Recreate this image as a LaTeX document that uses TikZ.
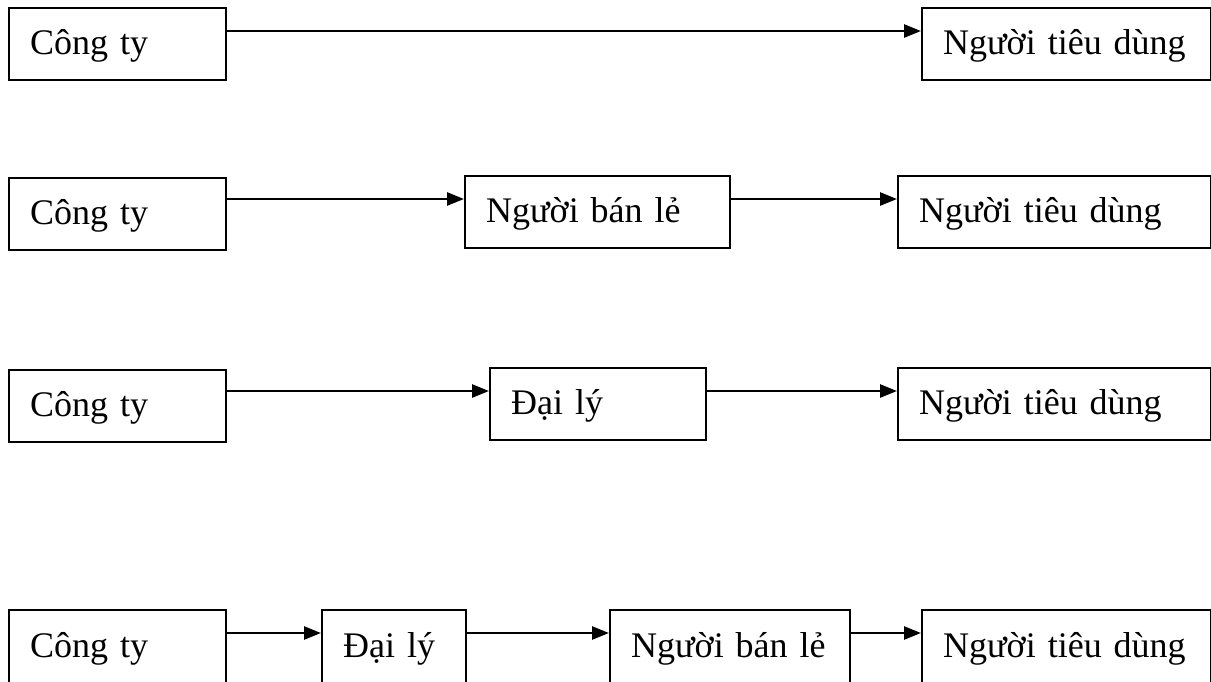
\documentclass[tikz,border=0pt]{standalone}
\usepackage{fontspec}
\setmainfont{Liberation Serif}
\usetikzlibrary{arrows.meta}
\tikzset{
  bx/.style={draw, line width=2.4pt, anchor=north west, minimum height=72pt,
    inner xsep=21pt, inner ysep=0pt, text height=30pt, text depth=10pt,
    align=left, font=\fontsize{36}{40}\selectfont},
  lastrow/.style={minimum height=75pt},
  arr/.style={line width=2.6pt, -{Triangle[length=17pt,width=13pt]}}
}
\begin{document}
\begin{tikzpicture}[x=1pt,y=-1pt]
\useasboundingbox (0,0) rectangle (1211,681);
% Row 1
\node[bx, text width=175pt] (c1) at (8,7) {\mbox{Công ty}};
\node[bx, text width=247pt] (t1) at (921,7) {\mbox{Người tiêu dùng}};
\draw[arr] ([yshift=-24pt]c1.north east) -- ([yshift=-24pt]c1.north east -| t1.west);
% Row 2
\node[bx, text width=175pt] (c2) at (8,177) {\mbox{Công ty}};
\node[bx, text width=223pt] (r2) at (464,175) {\mbox{Người bán lẻ}};
\node[bx, text width=271pt] (t2) at (897,175) {\mbox{Người tiêu dùng}};
\draw[arr] ([yshift=-22pt]c2.north east) -- ([yshift=-22pt]c2.north east -| r2.west);
\draw[arr] ([yshift=-24pt]r2.north east) -- ([yshift=-24pt]r2.north east -| t2.west);
% Row 3
\node[bx, text width=175pt] (c3) at (8,369) {\mbox{Công ty}};
\node[bx, text width=174pt] (a3) at (489,367) {\mbox{Đại lý}};
\node[bx, text width=271pt] (t3) at (897,367) {\mbox{Người tiêu dùng}};
\draw[arr] ([yshift=-22pt]c3.north east) -- ([yshift=-22pt]c3.north east -| a3.west);
\draw[arr] ([yshift=-24pt]a3.north east) -- ([yshift=-24pt]a3.north east -| t3.west);
% Row 4
\node[bx, lastrow, text width=175pt] (c4) at (8,609) {\mbox{Công ty}};
\node[bx, lastrow, text width=102pt] (a4) at (321,609) {\mbox{Đại lý}};
\node[bx, lastrow, text width=198pt] (r4) at (609,609) {\mbox{Người bán lẻ}};
\node[bx, lastrow, text width=247pt] (t4) at (921,609) {\mbox{Người tiêu dùng}};
\draw[arr] ([yshift=-24pt]c4.north east) -- ([yshift=-24pt]c4.north east -| a4.west);
\draw[arr] ([yshift=-24pt]a4.north east) -- ([yshift=-24pt]a4.north east -| r4.west);
\draw[arr] ([yshift=-24pt]r4.north east) -- ([yshift=-24pt]r4.north east -| t4.west);
\end{tikzpicture}
\end{document}
